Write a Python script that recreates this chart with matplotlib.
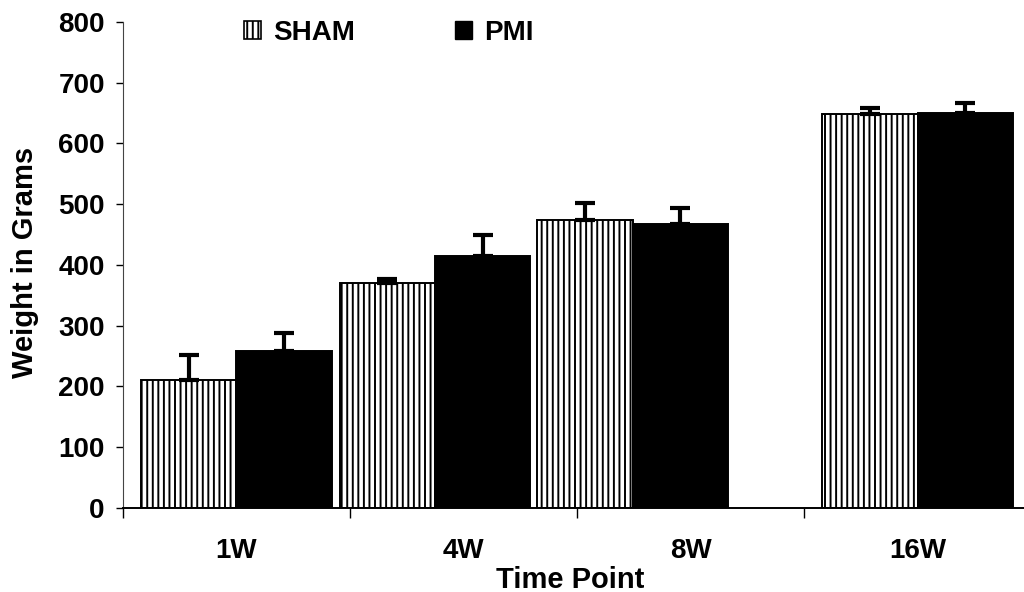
import matplotlib
matplotlib.use('Agg')

import numpy as np
import matplotlib.pyplot as plt
from matplotlib.patches import Patch

# body weight per time point (grams), mean and upper error
time_points = ['1W', '4W', '8W', '16W']
sham_mean = [211, 371, 474, 648]
sham_err = [41, 6, 28, 10]
pmi_mean = [259, 414, 467, 650]
pmi_err = [29, 36, 27, 17]

plt.rcParams['font.family'] = ['Liberation Sans', 'DejaVu Sans']
plt.rcParams['font.weight'] = 'bold'
plt.rcParams['hatch.linewidth'] = 1.4


def main():
    fig = plt.figure(figsize=(10.24, 5.92), dpi=100)
    ax = fig.add_axes([0.120, 0.142, 0.887, 0.821])

    # group centres inside each category slot
    centers = np.array([0.50, 1.375, 2.245, 3.50])
    width = 0.42

    ax.bar(centers - width / 2, sham_mean, width, color='white',
           edgecolor='black', hatch='|||', linewidth=1.4, zorder=2)
    ax.bar(centers + width / 2, pmi_mean, width, color='black',
           edgecolor='black', linewidth=1.4, zorder=2)

    for xs, means, errs in [(centers - width / 2, sham_mean, sham_err),
                            (centers + width / 2, pmi_mean, pmi_err)]:
        ax.errorbar(xs, means, yerr=[np.zeros(len(errs)), errs], fmt='none',
                    ecolor='black', elinewidth=3, capsize=7, capthick=3,
                    zorder=3)

    ax.set_xlim(0, 4)
    ax.set_ylim(0, 800)
    ax.set_yticks(range(0, 801, 100))
    ax.tick_params(axis='y', labelsize=20, length=5, width=1, pad=8)

    # category boundaries carry the tick marks, labels sit in between
    ax.set_xticks([0, 1, 2, 3])
    ax.set_xticklabels([])
    ax.tick_params(axis='x', which='major', length=7, width=1)
    ax.set_xticks(np.arange(4) + 0.5, minor=True)
    ax.set_xticklabels(time_points, minor=True)
    ax.tick_params(axis='x', which='minor', length=0, pad=22, labelsize=20)

    ax.text(0.492, -0.148, 'Time Point', transform=ax.transAxes,
            ha='center', va='center', fontsize=21, fontweight='bold')
    ax.set_ylabel('Weight in Grams', fontsize=21, fontweight='bold')
    ax.yaxis.set_label_coords(-0.092, 0.506)

    for side in ['top', 'right']:
        ax.spines[side].set_visible(False)
    ax.spines['left'].set_linewidth(0.8)
    ax.spines['left'].set_color('#444444')
    ax.spines['bottom'].set_linewidth(1.4)

    handles = [Patch(facecolor='white', edgecolor='black', hatch='|||',
                     linewidth=1.2, label='SHAM'),
               Patch(facecolor='black', edgecolor='black', label='PMI')]
    ax.legend(handles=handles, loc='center left',
              bbox_to_anchor=(0.121, 0.977), borderaxespad=0,
              ncol=2, frameon=False, fontsize=20, handlelength=0.6,
              handleheight=0.6, handletextpad=0.45, columnspacing=3.6)

    fig.savefig('out.png', dpi=100)


if __name__ == "__main__":
    main()
